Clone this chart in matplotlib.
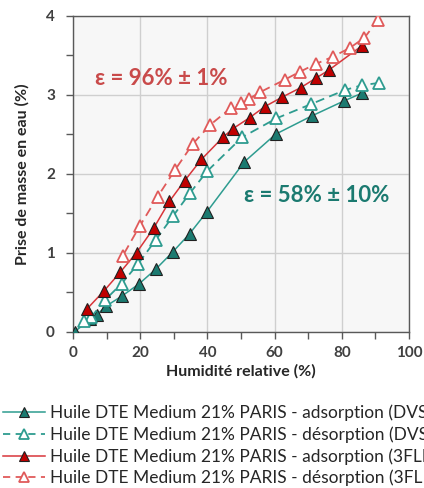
import matplotlib
matplotlib.use("Agg")
import matplotlib.pyplot as plt
from matplotlib.ticker import MultipleLocator
from matplotlib.lines import Line2D

# Data
dvs_ads_x = [0.5, 5.2, 7.0, 9.7, 14.5, 19.5, 24.6, 29.7, 34.7, 39.9, 51.0, 60.3, 71.0, 80.6, 86.0]
dvs_ads_y = [0.0, 0.16, 0.21, 0.32, 0.45, 0.60, 0.79, 1.01, 1.24, 1.52, 2.15, 2.50, 2.73, 2.92, 3.02]
dvs_des_x = [91.2, 86.0, 81.0, 70.8, 60.5, 50.3, 39.9, 34.9, 29.7, 24.6, 19.4, 14.5, 9.5, 5.5, 3.2]
dvs_des_y = [3.15, 3.12, 3.06, 2.88, 2.70, 2.46, 2.03, 1.76, 1.46, 1.16, 0.86, 0.61, 0.40, 0.19, 0.13]
flex_ads_x = [4.2, 9.3, 14.0, 18.9, 24.0, 28.7, 33.2, 38.2, 44.6, 47.6, 52.6, 57.1, 62.3, 67.8, 72.3, 76.1, 86.0]
flex_ads_y = [0.29, 0.52, 0.75, 1.00, 1.31, 1.65, 1.91, 2.18, 2.46, 2.57, 2.71, 2.85, 2.97, 3.09, 3.21, 3.31, 3.62]
flex_des_x = [90.9, 86.7, 82.3, 77.3, 72.3, 67.5, 63.0, 55.6, 52.5, 49.9, 46.9, 40.9, 35.7, 30.4, 25.2, 19.9, 14.8]
flex_des_y = [3.95, 3.72, 3.59, 3.48, 3.39, 3.29, 3.19, 3.03, 2.95, 2.89, 2.83, 2.62, 2.38, 2.05, 1.71, 1.34, 0.96]

labels = [
    "Huile DTE Medium 21% PARIS - adsorption (DVS)",
    "Huile DTE Medium 21% PARIS - désorption (DVS)",
    "Huile DTE Medium 21% PARIS - adsorption (3FLEX)",
    "Huile DTE Medium 21% PARIS - désorption (3FLEX)",
]

plt.rcParams['font.family'] = ['Lato', 'DejaVu Sans']

teal_line = "#2e9c90"
teal_fill = "#1b7a70"
red_line = "#d8353a"
red_fill = "#c00000"
red_open = "#e05a5a"
edge_dark = "#202020"

fig = plt.figure(figsize=(4.24, 4.88), dpi=100)
ax = fig.add_axes([73/424, 1-331.7/488, (409-73)/424, (331.7-15.7)/488])
ax.set_facecolor("#f7f7f7")

ms = 8
ax.plot(dvs_ads_x, dvs_ads_y, '-', color=teal_line, lw=1.1, marker='^', ms=ms,
        mfc=teal_fill, mec=edge_dark, mew=0.8, zorder=3)
ax.plot(dvs_des_x, dvs_des_y, '--', color=teal_line, lw=1.3, dashes=(5, 3), marker='^', ms=ms,
        mfc='white', mec=teal_line, mew=1.3, zorder=3)
ax.plot(flex_ads_x, flex_ads_y, '-', color=red_line, lw=1.1, marker='^', ms=ms,
        mfc=red_fill, mec=edge_dark, mew=0.8, zorder=3)
ax.plot(flex_des_x, flex_des_y, '--', color=red_open, lw=1.3, dashes=(5, 3), marker='^', ms=ms,
        mfc='white', mec=red_open, mew=1.3, zorder=3)

ax.set_xlim(0, 100)
ax.set_ylim(0, 4)
ax.xaxis.set_major_locator(MultipleLocator(20))
ax.xaxis.set_minor_locator(MultipleLocator(10))
ax.yaxis.set_major_locator(MultipleLocator(1))
ax.yaxis.set_minor_locator(MultipleLocator(0.5))
ax.grid(True, which='major', color="#cfcfcf", lw=1.0)
ax.set_axisbelow(True)
for s in ax.spines.values():
    s.set_color("#595959")
    s.set_linewidth(1.0)
ax.tick_params(which='both', direction='out', color="#595959", width=1.0)
ax.tick_params(which='major', length=5, labelsize=11, labelcolor="#404040")
ax.tick_params(which='minor', length=5)
ax.tick_params(axis='y', which='major', pad=8)
ax.tick_params(axis='x', which='major', pad=5)
for lab in ax.get_xticklabels() + ax.get_yticklabels():
    lab.set_fontweight('bold')

ax.set_xlabel("Humidité relative (%)", fontsize=11.5, fontweight='bold', color="#262626", labelpad=3)
ax.set_ylabel("Prise de masse en eau (%)", fontsize=11.5, fontweight='bold', color="#262626", labelpad=12)

ax.text(6.5, 3.21, "ε = 96% ± 1%", color="#c94a4a", fontsize=16, fontweight='bold', va='center')
ax.text(51, 1.72, "ε = 58% ± 10%", color="#1b7a70", fontsize=16, fontweight='bold', va='center')

handles = [
    Line2D([], [], ls='-', color=teal_line, lw=1.1, marker='^', ms=7, mfc=teal_fill, mec=edge_dark, mew=0.8),
    Line2D([], [], ls='--', color=teal_line, lw=1.3, dashes=(4, 3), marker='^', ms=7, mfc='white', mec=teal_line, mew=1.3),
    Line2D([], [], ls='-', color=red_line, lw=1.1, marker='^', ms=7, mfc=red_fill, mec=edge_dark, mew=0.8),
    Line2D([], [], ls='--', color=red_open, lw=1.3, dashes=(4, 3), marker='^', ms=7, mfc='white', mec=red_open, mew=1.3),
]
fig.legend(handles, labels, loc='upper left', bbox_to_anchor=(0.0, 1-401/488),
           frameon=False, fontsize=12.5, handlelength=2.4, handletextpad=0.3,
           labelspacing=0.3, borderaxespad=0, borderpad=0.2, labelcolor="#262626")

fig.savefig("out.png", dpi=100)
